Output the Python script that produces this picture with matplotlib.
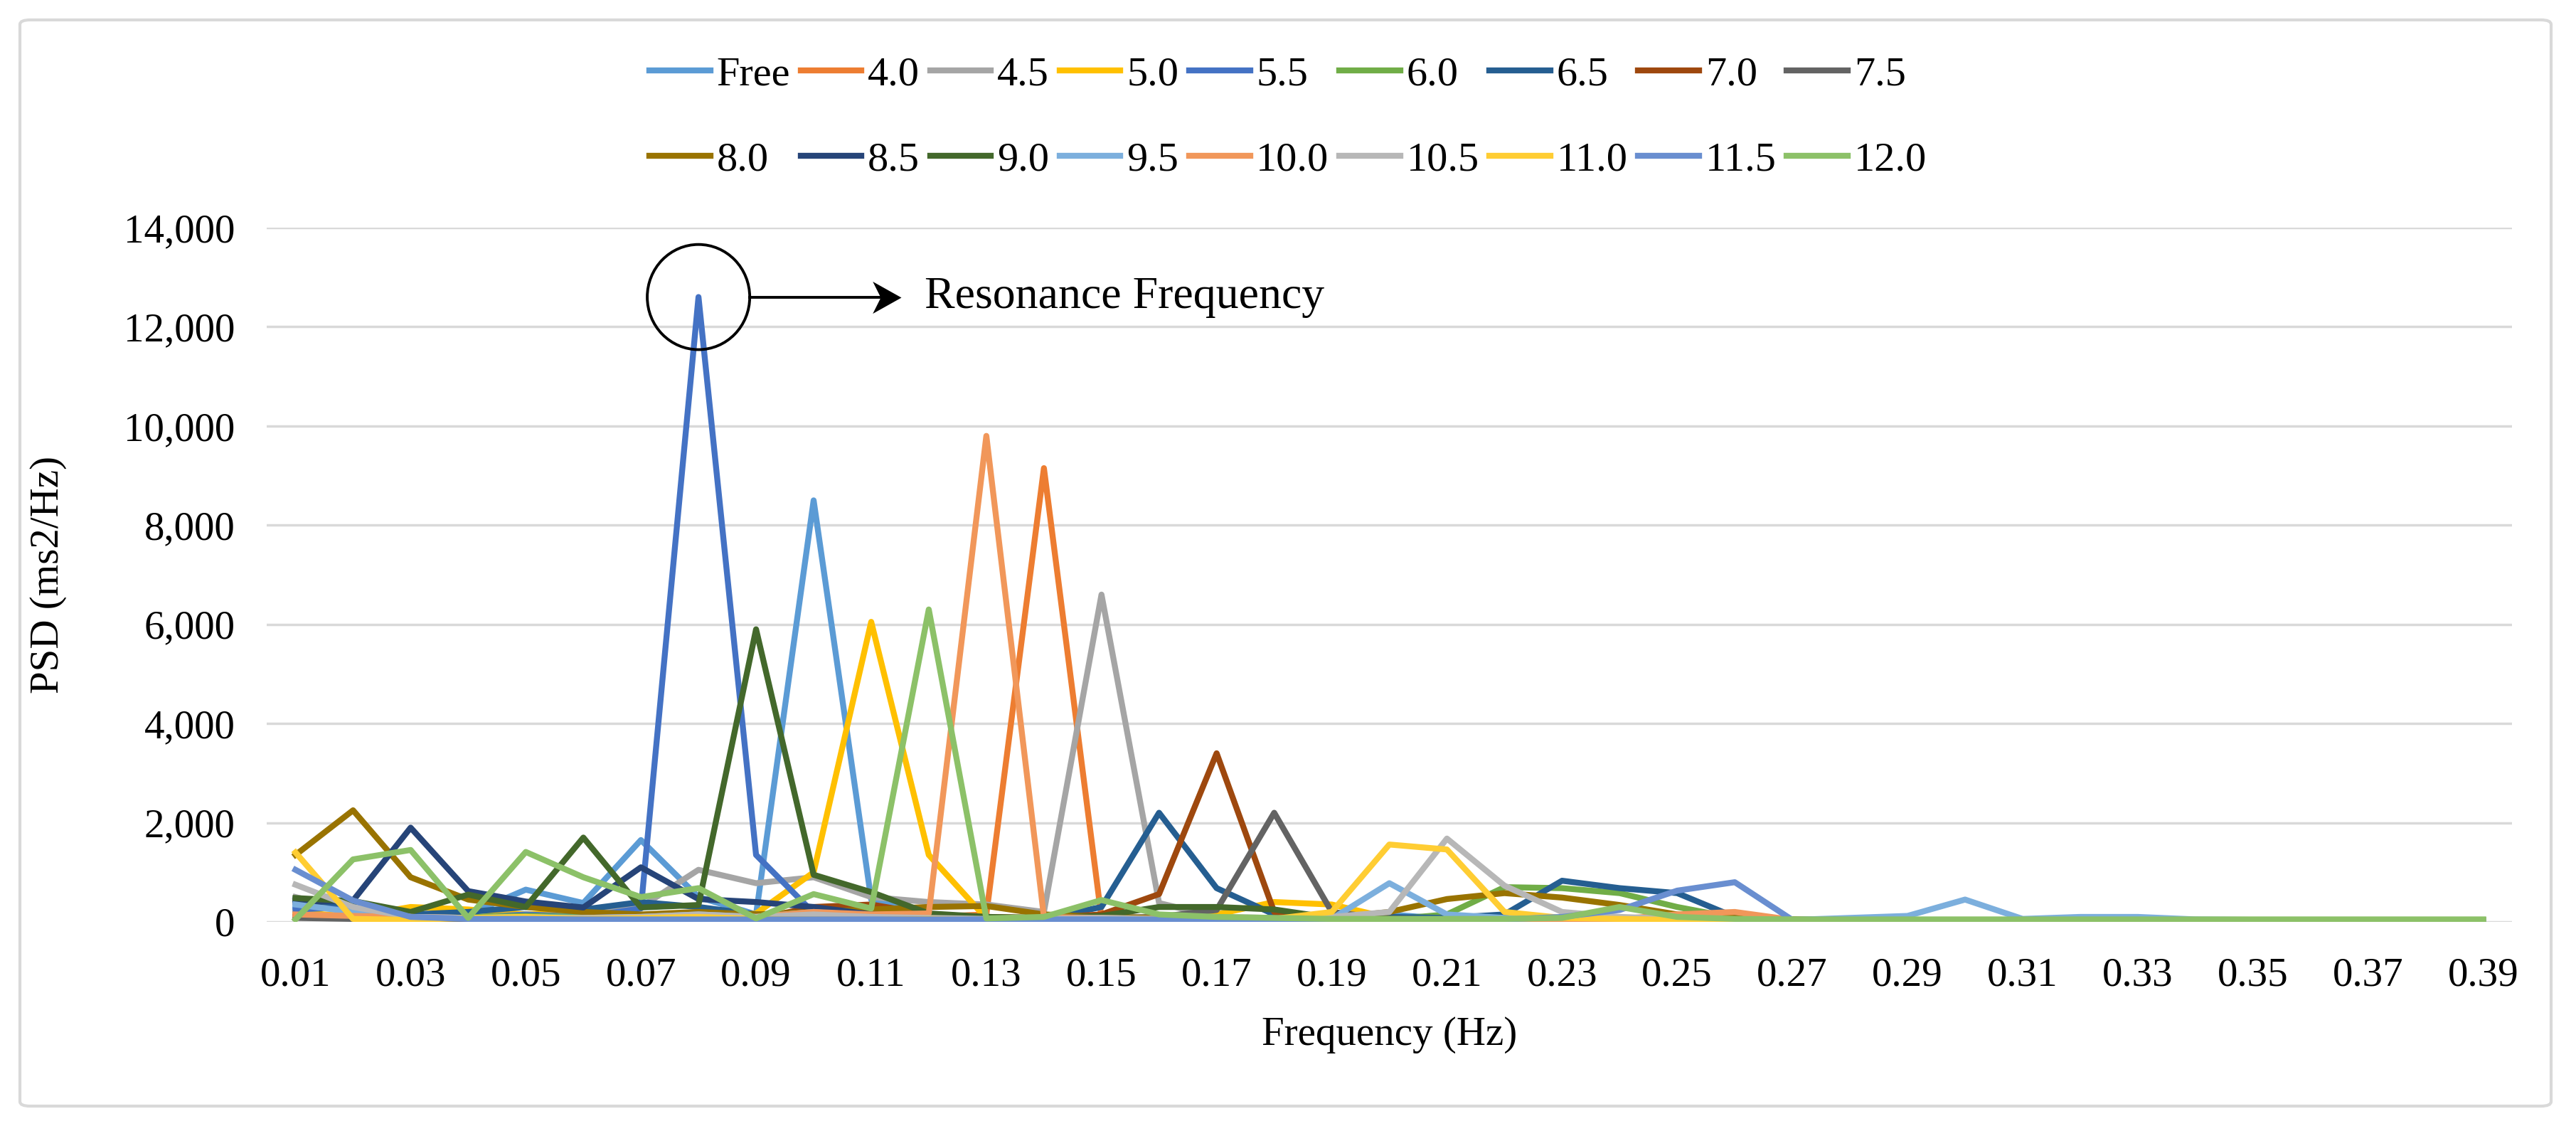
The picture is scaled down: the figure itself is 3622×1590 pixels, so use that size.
import numpy as np
import matplotlib
matplotlib.use("Agg")
import matplotlib.pyplot as plt
from matplotlib.patches import Ellipse, FancyBboxPatch
from matplotlib.path import Path
from matplotlib.ticker import FuncFormatter

# frequencias (Hz), 0.01 ... 0.39
freqs = [round(0.01 * k, 2) for k in range(1, 40)]

series_names = ["Free", "4.0", "4.5", "5.0", "5.5", "6.0", "6.5", "7.0", "7.5",
                "8.0", "8.5", "9.0", "9.5", "10.0", "10.5", "11.0", "11.5", "12.0"]

series_colors = ["#5B9BD5", "#ED7D31", "#A5A5A5", "#FFC000", "#4472C4", "#70AD47",
                 "#255E91", "#9E480E", "#636363", "#997300", "#264478", "#43682B",
                 "#7CAFDD", "#F1975A", "#B7B7B7", "#FFCD33", "#698ED0", "#8CC168"]

# valores PSD (ms2/Hz)
psd_free = [300, 250, 120, 150, 650, 380, 1650, 500, 150, 8500, 450, 120, 60, 80, 120, 60, 50, 60, 70, 150,
            60, 50, 40, 40, 40, 40, 30, 30, 30, 40, 30, 30, 30, 20, 20, 20, 20, 20, 20]
psd_40 = [150, 120, 80, 60, 50, 60, 50, 60, 80, 150, 200, 100, 150, 9150, 80, 60, 50, 40, 40, 40,
          40, 40, 40, 50, 60, 60, 40, 30, 30, 30, 30, 30, 20, 20, 20, 20, 20, 20, 20]
psd_45 = [500, 200, 100, 80, 100, 150, 300, 1050, 780, 900, 500, 400, 350, 200, 6600, 380, 100, 80, 60, 60,
          60, 50, 50, 40, 40, 30, 30, 30, 30, 30, 30, 20, 20, 20, 20, 20, 20, 20, 20]
psd_50 = [200, 100, 300, 250, 150, 200, 100, 80, 170, 1000, 6050, 1350, 70, 50, 60, 80, 150, 400, 350, 80,
          60, 40, 40, 30, 30, 30, 20, 20, 20, 20, 20, 20, 20, 20, 20, 20, 20, 20, 20]
psd_55 = [250, 300, 100, 80, 150, 100, 270, 12600, 1350, 180, 100, 80, 60, 50, 50, 40, 40, 40, 30, 30,
          30, 30, 30, 30, 30, 30, 30, 20, 20, 20, 20, 20, 20, 20, 20, 20, 20, 20, 20]
psd_60 = [100, 80, 60, 100, 120, 100, 80, 60, 60, 100, 80, 60, 60, 60, 80, 60, 60, 60, 50, 50,
          150, 700, 680, 580, 300, 80, 50, 40, 40, 40, 40, 40, 40, 40, 40, 40, 40, 40, 40]
psd_65 = [450, 350, 150, 200, 300, 250, 400, 300, 150, 100, 80, 60, 60, 60, 300, 2200, 680, 150, 60, 100,
          80, 150, 830, 680, 580, 100, 40, 30, 30, 30, 30, 30, 30, 20, 20, 20, 20, 20, 20]
psd_70 = [100, 80, 60, 60, 60, 60, 80, 80, 60, 300, 350, 150, 100, 80, 150, 560, 3400, 200, 100, 60,
          50, 50, 40, 40, 40, 30, 30, 30, 30, 30, 20, 20, 20, 20, 20, 20, 20, 20, 20]
psd_75 = [80, 60, 50, 50, 50, 50, 60, 60, 60, 80, 60, 60, 50, 50, 80, 100, 240, 2200, 200, 60,
          50, 40, 40, 40, 40, 30, 30, 30, 30, 30, 20, 20, 20, 20, 20, 20, 20, 20, 20]
psd_80 = [1350, 2250, 900, 450, 300, 200, 150, 200, 150, 200, 250, 300, 320, 150, 100, 80, 60, 60, 80, 200,
          460, 580, 490, 340, 150, 80, 50, 40, 40, 40, 30, 30, 30, 30, 30, 30, 30, 30, 30]
psd_85 = [400, 430, 1900, 620, 410, 290, 1100, 460, 400, 300, 150, 100, 80, 60, 60, 60, 50, 50, 40, 40,
          40, 40, 40, 40, 30, 30, 30, 30, 30, 20, 20, 20, 20, 20, 20, 20, 20, 20, 20]
psd_90 = [480, 420, 200, 550, 300, 1700, 290, 340, 5900, 950, 600, 170, 100, 80, 120, 300, 300, 250, 80, 60,
          50, 50, 40, 40, 40, 30, 30, 30, 30, 30, 30, 20, 20, 20, 20, 20, 20, 20, 20]
psd_95 = [350, 200, 100, 80, 100, 80, 100, 150, 100, 200, 100, 60, 50, 50, 60, 50, 50, 50, 60, 780,
          150, 80, 60, 50, 50, 40, 40, 80, 120, 450, 60, 100, 100, 50, 40, 40, 30, 30, 30]
psd_100 = [150, 120, 100, 80, 60, 60, 80, 100, 100, 200, 150, 170, 9800, 100, 80, 60, 50, 40, 40, 40,
           40, 40, 40, 60, 150, 200, 40, 30, 30, 30, 30, 30, 20, 20, 20, 20, 20, 20, 20]
psd_105 = [750, 300, 100, 80, 80, 80, 100, 150, 100, 150, 100, 80, 60, 60, 80, 60, 60, 60, 100, 200,
           1680, 730, 200, 100, 60, 40, 30, 30, 30, 30, 30, 20, 20, 20, 20, 20, 20, 20, 20]
psd_110 = [1400, 60, 40, 80, 100, 60, 80, 100, 60, 50, 40, 60, 40, 40, 40, 50, 40, 60, 200, 1560,
           1460, 200, 80, 60, 40, 30, 30, 20, 20, 20, 20, 20, 20, 20, 20, 20, 20, 20, 20]
psd_115 = [1050, 430, 100, 60, 60, 50, 50, 50, 50, 50, 50, 50, 50, 50, 50, 50, 50, 50, 50, 50,
           50, 50, 100, 240, 630, 800, 40, 30, 30, 30, 30, 30, 20, 20, 20, 20, 20, 20, 20]
psd_120 = [50, 1260, 1450, 80, 1410, 900, 500, 680, 70, 560, 270, 6300, 70, 100, 440, 150, 100, 80, 60, 60,
           60, 60, 80, 300, 100, 60, 50, 50, 50, 50, 50, 50, 50, 50, 50, 50, 50, 50, 50]

all_series = [psd_free, psd_40, psd_45, psd_50, psd_55, psd_60, psd_65, psd_70, psd_75,
              psd_80, psd_85, psd_90, psd_95, psd_100, psd_105, psd_110, psd_115, psd_120]

plt.rcParams['font.family'] = ['Liberation Serif', 'DejaVu Serif']

fig = plt.figure(figsize=(36.22, 15.90), dpi=100)
fig.patch.set_facecolor('white')

# moldura cinza arredondada
borda = FancyBboxPatch((28 / 3622, 35 / 1590), (3587 - 28) / 3622, (1562 - 35) / 1590,
                       boxstyle="round,pad=0,rounding_size=0.004", transform=fig.transFigure,
                       facecolor='none', edgecolor='#d9d9d9', linewidth=3, zorder=-1)
fig.patches.append(borda)

ax = fig.add_axes([375 / 3622, 1 - 1296 / 1590, (3532 - 375) / 3622, (1296 - 320) / 1590])
ax.set_facecolor('none')

x = np.arange(len(freqs))
for nome, cor, vals in zip(series_names, series_colors, all_series):
    ax.plot(x, vals, color=cor, linewidth=6, label=nome, solid_joinstyle='round')

ax.set_xlim(-0.5, len(freqs) - 0.5)
ax.set_ylim(0, 14000)
ax.set_yticks(np.arange(0, 14001, 2000))
ax.yaxis.set_major_formatter(FuncFormatter(lambda v, p: f"{int(v):,}"))
ax.set_xticks(x[::2])
ax.set_xticklabels([f"{f:.2f}" for f in freqs[::2]])
ax.tick_params(axis='both', length=0, labelsize=41)
ax.tick_params(axis='y', pad=32)
ax.tick_params(axis='x', pad=36)
ax.yaxis.grid(True, color='#d9d9d9', linewidth=2.5)
ax.set_axisbelow(True)
for s in ax.spines.values():
    s.set_visible(False)

ax.set_xlabel('Frequency (Hz)', fontsize=41, labelpad=22)
ax.set_ylabel('PSD (ms2/Hz)', fontsize=41, labelpad=58)

# marcação da frequência de ressonância
pico_i = int(np.argmax(psd_55))
pico_v = psd_55[pico_i]
ax.add_patch(Ellipse((pico_i, pico_v), 1.78, 2120, fill=False, edgecolor='black', linewidth=2.8, zorder=5))
ax.plot([pico_i + 0.89, pico_i + 3.3], [pico_v, pico_v], color='black', linewidth=2.8, zorder=5)
# ponta de seta tipo "stealth"
ponta = Path([(0, 0), (-1, 0.56), (-0.72, 0), (-1, -0.56), (0, 0)],
             [Path.MOVETO, Path.LINETO, Path.LINETO, Path.LINETO, Path.CLOSEPOLY])
ax.plot([pico_i + 3.52], [pico_v], marker=ponta, markersize=58, color='black',
        markeredgewidth=0, linestyle='none', zorder=6)
ax.text(pico_i + 3.93, pico_v, 'Resonance Frequency', fontsize=46, va='center', ha='left')

# legenda preenchida por linhas (2 x 9)
handles, labels = ax.get_legend_handles_labels()
ordem = [i for par in zip(range(9), range(9, 18)) for i in par]
fig.legend([handles[i] for i in ordem], [labels[i] for i in ordem],
           loc='upper center', bbox_to_anchor=(0.5, 0.965), ncol=9, frameon=False, fontsize=42,
           handlelength=1.47, handletextpad=0.15, columnspacing=0.25, labelspacing=1.15, borderaxespad=0)

fig.savefig('out.png', dpi=100)
